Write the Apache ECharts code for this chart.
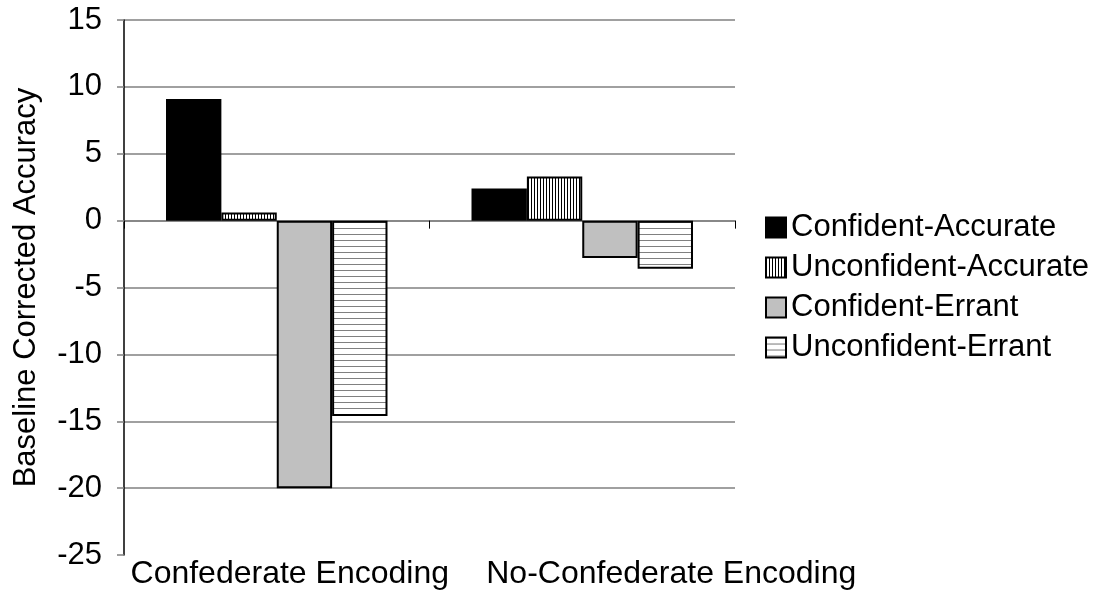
<!DOCTYPE html>
<html>
<head>
<meta charset="utf-8">
<script src="https://cdn.jsdelivr.net/npm/echarts@6/dist/echarts.min.js"></script>
<style>
html,body{margin:0;padding:0;background:#fff;}
#chart{width:1105px;height:594px;}
</style>
</head>
<body>
<div id="chart"></div>
<script>
const categories = ['Confederate Encoding', 'No-Confederate Encoding'];
const seriesNames = ['Confident-Accurate', 'Unconfident-Accurate', 'Confident-Errant', 'Unconfident-Errant'];
const confidentAccurate = [9.1, 2.4];
const unconfidentAccurate = [0.6, 3.3];
const confidentErrant = [-20.0, -2.8];
const unconfidentErrant = [-14.6, -3.6];
const yTicks = { min: -25, max: 15, interval: 5 };
const yTitle = 'Baseline Corrected Accuracy';

function makePattern(kind) {
  const c = document.createElement('canvas');
  const ctx = c.getContext('2d');
  if (kind === 'v') {
    c.width = 3; c.height = 3;
    ctx.fillStyle = '#fff'; ctx.fillRect(0, 0, 3, 3);
    ctx.fillStyle = '#000'; ctx.fillRect(0, 0, 1, 3);
  } else {
    c.width = 6; c.height = 6;
    ctx.fillStyle = '#fff'; ctx.fillRect(0, 0, 6, 6);
    ctx.fillStyle = '#808080'; ctx.fillRect(0, 0, 6, 1);
  }
  return { image: c, repeat: 'repeat' };
}

const FONT = 'Liberation Sans';
const FS = 31;
const fills = ['#000000', makePattern('v'), '#C0C0C0', makePattern('h')];
const seriesData = [confidentAccurate, unconfidentAccurate, confidentErrant, unconfidentErrant];

const chart = echarts.init(document.getElementById('chart'), null, { renderer: 'canvas' });
chart.setOption({
  backgroundColor: '#fff',
  animation: false,
  textStyle: { fontFamily: FONT },
  grid: { left: 124, right: 370, top: 20, bottom: 39, containLabel: false },
  legend: {
    orient: 'vertical',
    left: 765,
    top: 212,
    padding: 0,
    icon: 'rect',
    itemWidth: 20,
    itemHeight: 20,
    itemGap: 9,
    data: seriesNames,
    textStyle: { fontFamily: FONT, fontSize: FS, color: '#000' }
  },
  xAxis: [
    {
      type: 'category',
      data: categories,
      position: 'bottom',
      axisLine: { show: false, onZero: false },
      axisTick: { show: false },
      axisLabel: {
        fontFamily: FONT, fontSize: 32, color: '#000', margin: 3, interval: 0, hideOverlap: false,
        formatter: function (v, i) { return i === 0 ? '{a|' + v + '}' : '{b|' + v + '}'; },
        rich: {
          a: { fontFamily: FONT, fontSize: 32, color: '#000', padding: [0, 0, 0, 26] },
          b: { fontFamily: FONT, fontSize: 32, color: '#000', padding: [0, 0, 0, 178] }
        }
      },
      splitLine: { show: false }
    },
    {
      type: 'category',
      data: categories,
      position: 'bottom',
      axisLine: { show: true, onZero: true, lineStyle: { color: '#808080', width: 1.5 } },
      axisTick: { show: true, length: 8, inside: false, lineStyle: { color: '#000', width: 1 } },
      axisLabel: { show: false },
      splitLine: { show: false }
    }
  ],
  yAxis: {
    type: 'value',
    min: yTicks.min,
    max: yTicks.max,
    interval: yTicks.interval,
    name: yTitle,
    nameLocation: 'middle',
    nameGap: 82,
    nameRotate: 90,
    nameTextStyle: { fontFamily: FONT, fontSize: FS, color: '#000' },
    axisLine: { show: true, lineStyle: { color: '#000', width: 1.5 } },
    axisTick: { show: true, length: 7, lineStyle: { color: '#808080', width: 1.5 } },
    axisLabel: { fontFamily: FONT, fontSize: FS, color: '#000', margin: 22 },
    splitLine: {
      show: true,
      lineStyle: {
        color: ['transparent', '#808080', '#808080', '#808080', '#808080', '#808080', '#808080', '#808080', '#808080'],
        width: 1.5
      }
    }
  },
  series: seriesNames.map((name, i) => ({
    name: name,
    type: 'bar',
    xAxisIndex: 0,
    data: seriesData[i],
    barGap: '0%',
    barCategoryGap: '27.5%',
    itemStyle: { color: fills[i], borderColor: '#000', borderWidth: 2 }
  }))
});
</script>
</body>
</html>
